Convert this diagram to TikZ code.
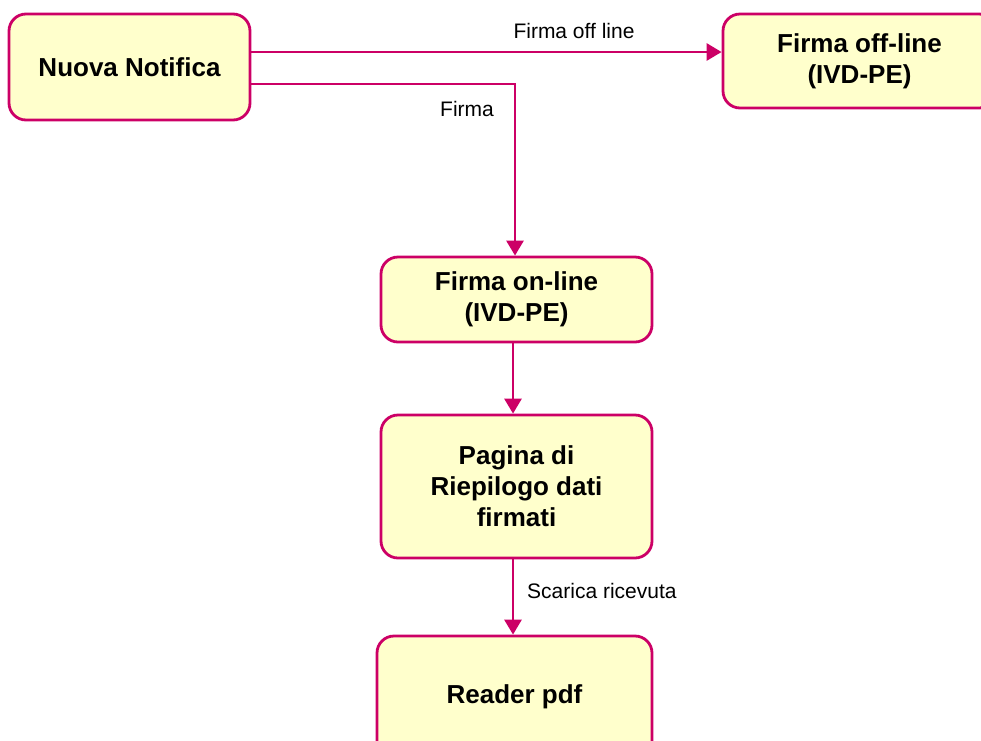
\documentclass[tikz,border=0pt]{standalone}
\usepackage{fontspec}
\setmainfont{Liberation Sans}
\usetikzlibrary{arrows.meta}
\definecolor{mag}{HTML}{CC0066}
\definecolor{boxfill}{HTML}{FFFFCC}
\begin{document}
\begin{tikzpicture}[x=1pt,y=-1pt,
  box/.style={draw=mag,fill=boxfill,line width=2.8pt,rounded corners=17pt,
    align=center,inner sep=0pt,font=\fontsize{26}{31}\selectfont\bfseries},
  conn/.style={draw=mag,line width=2.8pt,-{Triangle[length=15pt,width=17pt]}},
  lbl/.style={font=\fontsize{21}{25}\selectfont,inner sep=0pt}]
\useasboundingbox (0,0) rectangle (981,740);
\clip (0,0) rectangle (981,740);
\node[box,minimum width=241pt,minimum height=106pt] (nuova) at (129.5,67) {Nuova Notifica};
\node[box,minimum width=273pt,minimum height=94pt] (off) at (859.5,61) {Firma off-line\\(IVD-PE)};
\node[box,minimum width=271pt,minimum height=85pt] (on) at (516.5,299.5) {Firma on-line\\(IVD-PE)};
\node[box,minimum width=271pt,minimum height=143pt] (pag) at (516.5,486.5) {Pagina di\\Riepilogo dati\\firmati};
\node[box,minimum width=275pt,minimum height=122pt] (rdr) at (514.5,697) {Reader pdf};
\draw[conn] ([yshift=15pt]nuova.east) -- ([yshift=9pt]off.west);
\draw[conn] ([yshift=-17pt]nuova.east) -| ([xshift=-1.5pt]on.north);
\draw[conn] ([xshift=-3.5pt]on.south) -- ([xshift=-3.5pt]pag.north);
\draw[conn] ([xshift=-3.5pt]pag.south) -- ([xshift=-1.5pt]rdr.north);
\node[lbl] (l1) at (574,31) {Firma off line};
\node[lbl] (l2) at (467,109) {Firma};
\node[lbl,anchor=west] (l3) at (527,591) {Scarica ricevuta};
\end{tikzpicture}
\end{document}
